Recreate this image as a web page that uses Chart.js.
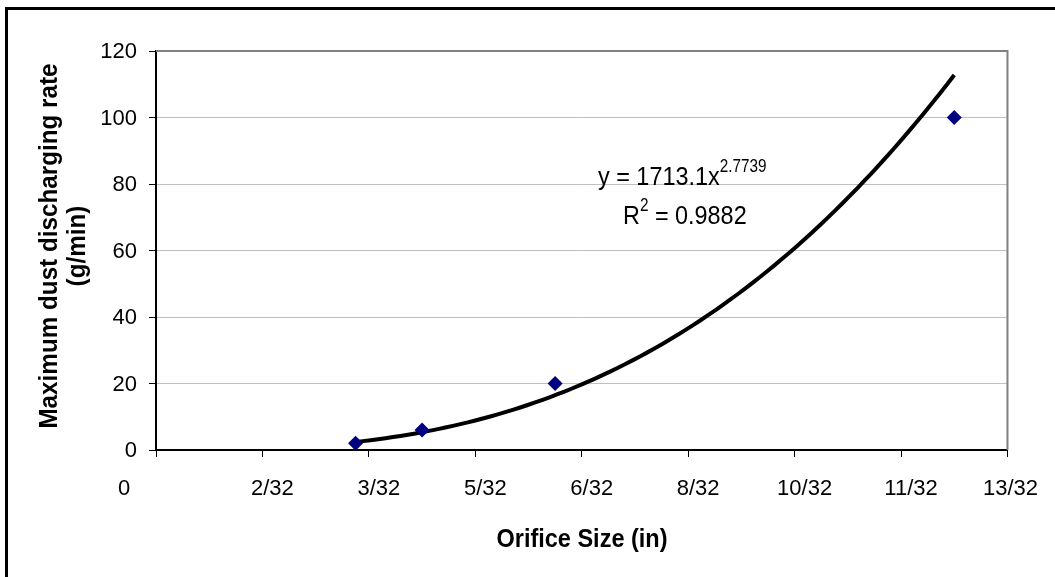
<!DOCTYPE html>
<html>
<head>
<meta charset="utf-8">
<script src="https://cdn.jsdelivr.net/npm/chart.js@4.4.1/dist/chart.umd.min.js"></script>
<style>
  html, body { margin: 0; padding: 0; background: #fff; }
  #wrap { width: 1055px; height: 577px; }
</style>
</head>
<body>
<div id="wrap"><canvas id="myChart" width="1055" height="577"></canvas></div>
<script>
// measured points (orifice size in inches, g/min)
const orificeSizes = [3 / 32, 4 / 32, 6 / 32, 12 / 32];
const dischargeRates = [2, 6, 20, 100];

// x axis ticks (Excel shows 0.05 steps as 32nds)
const xTickValues = [0, 0.05, 0.1, 0.15, 0.2, 0.25, 0.3, 0.35, 0.4];
const xTickLabels = ['0', '2/32', '3/32', '5/32', '6/32', '8/32', '10/32', '11/32', '13/32'];
const yTickValues = [0, 20, 40, 60, 80, 100, 120];

// power trendline as printed on the chart: y = 1713.1 x^2.7739
const fitCoef = 1713.1;
const fitExp = 2.7739;
const fitR2 = 0.9882;

const FONT = '"Liberation Sans", Arial, sans-serif';

const trendPoints = [];
const x0 = orificeSizes[0], x1 = orificeSizes[orificeSizes.length - 1];
for (let i = 0; i <= 80; i++) {
  const x = x0 + (x1 - x0) * i / 80;
  trendPoints.push({ x: x, y: fitCoef * Math.pow(x, fitExp) });
}

// text helper, sx squeezes the glyphs a bit like the original face
function drawText(ctx, text, x, y, size, bold, sx, align, base) {
  ctx.save();
  ctx.font = (bold ? 'bold ' : '') + size + 'px ' + FONT;
  ctx.textAlign = align || 'left';
  ctx.textBaseline = base || 'alphabetic';
  ctx.translate(x, y);
  ctx.scale(sx, 1);
  ctx.fillText(text, 0, 0);
  const w = ctx.measureText(text).width * sx;
  ctx.restore();
  return w;
}

const decorPlugin = {
  id: 'decor',
  afterDraw(chart) {
    const ctx = chart.ctx;
    const a = chart.chartArea;
    ctx.save();
    // plot area top / right border
    ctx.strokeStyle = '#808080';
    ctx.lineWidth = 2;
    ctx.beginPath();
    ctx.moveTo(a.left, a.top);
    ctx.lineTo(a.right, a.top);
    ctx.lineTo(a.right, a.bottom);
    ctx.stroke();

    // outer frame
    ctx.strokeStyle = '#000';
    ctx.lineWidth = 3;
    ctx.beginPath();
    ctx.moveTo(6.5, 600);
    ctx.lineTo(6.5, 8.5);
    ctx.lineTo(1100, 8.5);
    ctx.stroke();

    ctx.fillStyle = '#000';

    // tick labels
    const xs = chart.scales.x, ys = chart.scales.y;
    yTickValues.forEach(v => {
      drawText(ctx, String(v), 137, ys.getPixelForValue(v) + 1, 22, false, 1, 'right', 'middle');
    });
    xTickValues.forEach((v, i) => {
      const nudge = i === 0 ? -32 : (i === xTickValues.length - 1 ? 3 : 10);
      drawText(ctx, xTickLabels[i], xs.getPixelForValue(v) + nudge, 489, 22, false, 1, 'center', 'middle');
    });

    // axis titles
    drawText(ctx, 'Orifice Size (in)', 582, 547, 25, true, 0.94, 'center');
    ctx.save();
    ctx.translate(57, 246);
    ctx.rotate(-Math.PI / 2);
    drawText(ctx, 'Maximum dust discharging rate', 0, 0, 25, true, 0.97, 'center');
    drawText(ctx, '(g/min)', 0, 28, 25, true, 0.97, 'center');
    ctx.restore();

    // equation label
    let w = drawText(ctx, 'y = ' + fitCoef + 'x', 598, 185, 26, false, 0.9);
    drawText(ctx, String(fitExp), 598 + w, 172, 18, false, 0.85);
    w = drawText(ctx, 'R', 623, 224, 26, false, 0.9);
    const sw = drawText(ctx, '2', 623 + w, 211, 18, false, 0.85);
    drawText(ctx, ' = ' + fitR2, 623 + w + sw, 224, 26, false, 0.9);
    ctx.restore();
  }
};

new Chart(document.getElementById('myChart'), {
  type: 'scatter',
  data: {
    datasets: [
      {
        label: 'Power trendline',
        data: trendPoints,
        showLine: true,
        borderColor: '#000',
        borderWidth: 4,
        pointRadius: 0,
        fill: false,
        order: 2
      },
      {
        label: 'Measured',
        data: orificeSizes.map((x, i) => ({ x: x, y: dischargeRates[i] })),
        pointStyle: 'rectRot',
        pointRadius: 7.5,
        backgroundColor: '#000080',
        borderColor: '#000080',
        borderWidth: 0,
        order: 1
      }
    ]
  },
  options: {
    responsive: false,
    animation: false,
    layout: { padding: { top: 51, right: 47, left: 0, bottom: 0 } },
    plugins: {
      legend: { display: false },
      tooltip: { enabled: false }
    },
    scales: {
      x: {
        type: 'linear',
        min: 0,
        max: 0.4,
        afterFit(scale) { scale.height = 127; },
        afterBuildTicks(scale) { scale.ticks = xTickValues.map(v => ({ value: v })); },
        ticks: {
          color: 'rgba(0,0,0,0)',
          font: { family: FONT, size: 22 },
          padding: 20,
          maxRotation: 0,
          autoSkip: false,
          callback: (v) => {
            const i = xTickValues.findIndex(t => Math.abs(t - v) < 1e-9);
            return i >= 0 ? xTickLabels[i] : '';
          }
        },
        grid: {
          drawOnChartArea: false,
          drawTicks: true,
          tickLength: 7,
          tickColor: '#000',
          tickWidth: 1
        },
        border: { color: '#000', width: 2 }
      },
      y: {
        type: 'linear',
        min: 0,
        max: 120,
        afterFit(scale) { scale.width = 156; },
        afterBuildTicks(scale) { scale.ticks = yTickValues.map(v => ({ value: v })); },
        ticks: {
          color: 'rgba(0,0,0,0)',
          font: { family: FONT, size: 22 },
          padding: 10
        },
        grid: {
          color: '#c0c0c0',
          lineWidth: 1,
          drawTicks: true,
          tickLength: 7,
          tickColor: '#000',
          tickWidth: 1
        },
        border: { color: '#000', width: 2 }
      }
    }
  },
  plugins: [decorPlugin]
});
</script>
</body>
</html>
